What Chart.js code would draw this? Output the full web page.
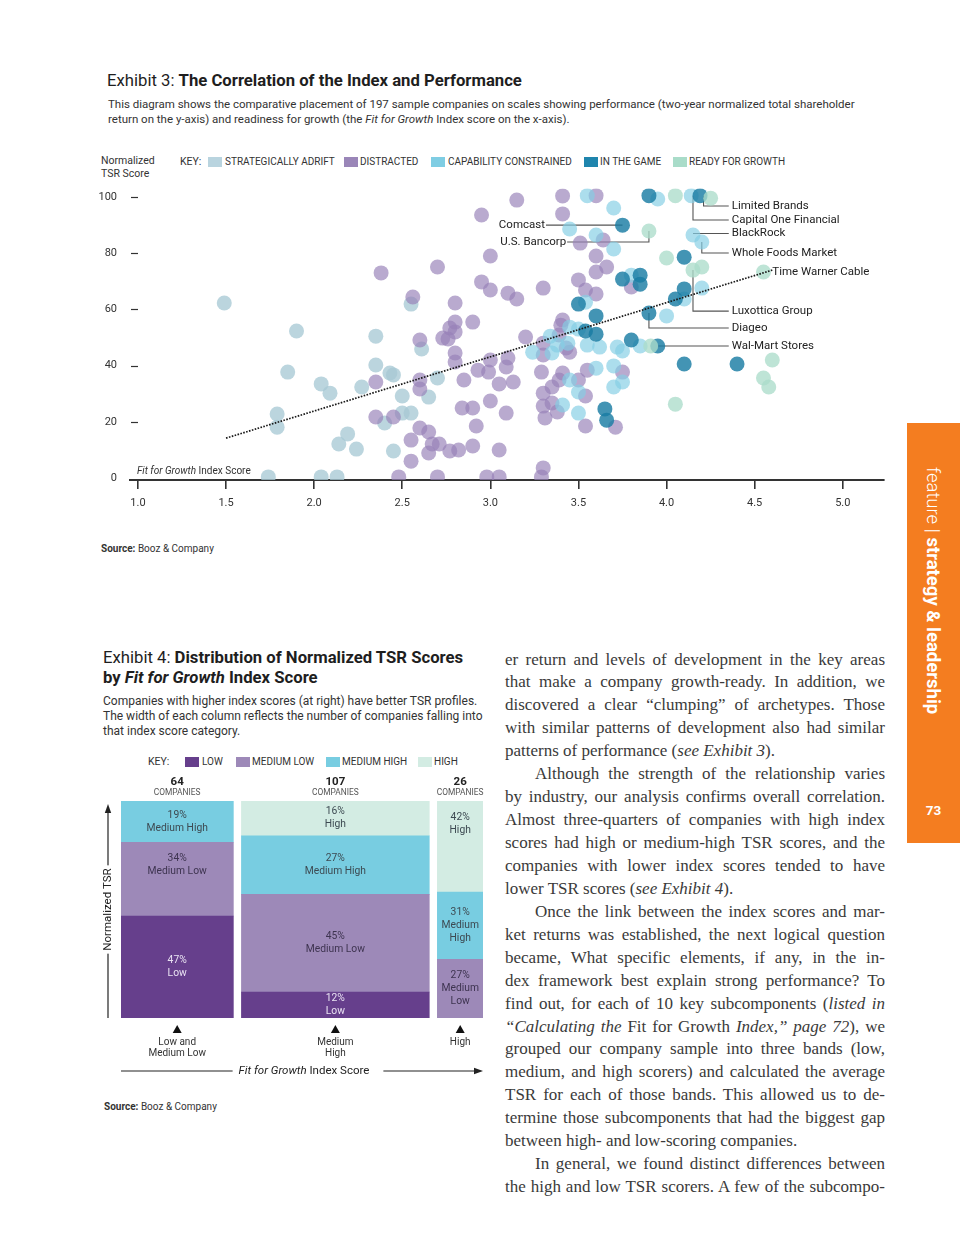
<!DOCTYPE html>
<html>
<head>
<meta charset="utf-8">
<title>Exhibits 3 and 4</title>
<script src="https://cdn.jsdelivr.net/npm/chart.js@4.4.1/dist/chart.umd.min.js"></script>
<style>
 html,body{margin:0;padding:0;background:#fff;}
 body{width:960px;height:1260px;overflow:hidden;position:relative;font-family:Roboto,"Noto Sans",Arial,sans-serif;color:#2a2a2a;}
 .t{position:absolute;white-space:nowrap;}
 .h{font-size:16.7px;line-height:20px;color:#1e1e1e;}
 .h b{font-weight:700;}
 .d{font-size:11.5px;line-height:15px;color:#333;}
 .k{font-size:10px;line-height:12px;color:#333;}
 .sw{position:absolute;width:14px;height:10px;}
 .src{font-size:10px;line-height:12px;color:#333}
 #c3{position:absolute;left:95px;top:180px;}
 #c4{position:absolute;left:90px;top:760px;}
 .tab{position:absolute;left:907px;top:423px;width:53px;height:420px;background:#f47d20;}
 .tabtxt{position:absolute;left:920px;top:467px;writing-mode:vertical-rl;color:#fff;font-size:18.5px;line-height:26px;white-space:nowrap;}
 .pg{position:absolute;left:907px;top:802px;width:53px;text-align:center;color:#fff;font-weight:700;font-size:13.5px;line-height:16px;}
 .body{position:absolute;left:505px;top:648.5px;width:380px;font-family:"Liberation Serif","DejaVu Serif",serif;font-size:17px;color:#3a3a3a;}
 .ln{white-space:nowrap;height:22.95px;line-height:22.95px;}
 .ln.ind{padding-left:30px;}
 .ln span{display:inline-block;white-space:nowrap;}
</style>
</head>
<body>

<!-- Exhibit 3 header -->
<div class="t h" style="left:107px;top:71px;">Exhibit 3: <b>The Correlation of the Index and Performance</b></div>
<div class="t d" style="left:108px;top:96.5px;">This diagram shows the comparative placement of 197 sample companies on scales showing performance (two-year normalized total shareholder<br>return on the y-axis) and readiness for growth (the <i>Fit for Growth</i> Index score on the x-axis).</div>

<div class="t k" style="left:101px;top:153.5px;line-height:13px;font-size:10.5px;">Normalized<br>TSR Score</div>
<div class="t k" style="left:180px;top:156px;font-size:10.5px;">KEY:</div>
<div class="sw" style="left:208px;top:157px;background:#b9d4df;"></div><div class="t k" style="left:225px;top:156px;">STRATEGICALLY ADRIFT</div>
<div class="sw" style="left:344px;top:157px;background:#9a86b8;"></div><div class="t k" style="left:360px;top:156px;">DISTRACTED</div>
<div class="sw" style="left:431px;top:157px;background:#7fcde3;"></div><div class="t k" style="left:448px;top:156px;">CAPABILITY CONSTRAINED</div>
<div class="sw" style="left:584px;top:157px;background:#1f85ad;"></div><div class="t k" style="left:600px;top:156px;">IN THE GAME</div>
<div class="sw" style="left:673px;top:157px;background:#a9dcc9;"></div><div class="t k" style="left:689px;top:156px;">READY FOR GROWTH</div>

<canvas id="c3" width="800" height="340"></canvas>
<div class="t" style="left:137px;top:465px;font-size:10px;line-height:12px;color:#333;"><i>Fit for Growth</i> Index Score</div>
<div class="t src" style="left:101px;top:543px;"><b>Source:</b> Booz &amp; Company</div>

<!-- Exhibit 4 header -->
<div class="t h" style="left:103px;top:648px;">Exhibit 4: <b>Distribution of Normalized TSR Scores</b><br><b>by <i>Fit for Growth</i> Index Score</b></div>
<div class="t d" style="left:103px;top:693.5px;font-size:12px;">Companies with higher index scores (at right) have better TSR profiles.<br>The width of each column reflects the number of companies falling into<br>that index score category.</div>

<div class="t k" style="left:148px;top:756px;font-size:10.5px;">KEY:</div>
<div class="sw" style="left:185px;top:757px;background:#663f8c;"></div><div class="t k" style="left:202px;top:756px;">LOW</div>
<div class="sw" style="left:236px;top:757px;background:#9d89b8;"></div><div class="t k" style="left:252px;top:756px;">MEDIUM LOW</div>
<div class="sw" style="left:326px;top:757px;background:#78cde1;"></div><div class="t k" style="left:342px;top:756px;">MEDIUM HIGH</div>
<div class="sw" style="left:418px;top:757px;background:#d3ece3;"></div><div class="t k" style="left:434px;top:756px;">HIGH</div>

<canvas id="c4" width="410" height="330"></canvas>
<div class="t src" style="left:104px;top:1101px;"><b>Source:</b> Booz &amp; Company</div>

<!-- Body text -->
<div class="body">
 <div class="ln"><span class="j">er return and levels of development in the key areas</span></div>
 <div class="ln"><span class="j">that make a company growth-ready. In addition, we</span></div>
 <div class="ln"><span class="j">discovered a clear “clumping” of archetypes. Those</span></div>
 <div class="ln"><span class="j">with similar patterns of development also had similar</span></div>
 <div class="ln"><span>patterns of performance (<i>see Exhibit 3</i>).</span></div>
 <div class="ln ind"><span class="j">Although the strength of the relationship varies</span></div>
 <div class="ln"><span class="j">by industry, our analysis confirms overall correlation.</span></div>
 <div class="ln"><span class="j">Almost three-quarters of companies with high index</span></div>
 <div class="ln"><span class="j">scores had high or medium-high TSR scores, and the</span></div>
 <div class="ln"><span class="j">companies with lower index scores tended to have</span></div>
 <div class="ln"><span>lower TSR scores (<i>see Exhibit 4</i>).</span></div>
 <div class="ln ind"><span class="j">Once the link between the index scores and mar-</span></div>
 <div class="ln"><span class="j">ket returns was established, the next logical question</span></div>
 <div class="ln"><span class="j">became, What specific elements, if any, in the in-</span></div>
 <div class="ln"><span class="j">dex framework best explain strong performance? To</span></div>
 <div class="ln"><span class="j">find out, for each of 10 key subcomponents (<i>listed in</i></span></div>
 <div class="ln"><span class="j"><i>“Calculating the</i> Fit for Growth <i>Index,” page 72</i>), we</span></div>
 <div class="ln"><span class="j">grouped our company sample into three bands (low,</span></div>
 <div class="ln"><span class="j">medium, and high scorers) and calculated the average</span></div>
 <div class="ln"><span class="j">TSR for each of those bands. This allowed us to de-</span></div>
 <div class="ln"><span class="j">termine those subcomponents that had the biggest gap</span></div>
 <div class="ln"><span>between high- and low-scoring companies.</span></div>
 <div class="ln ind"><span class="j">In general, we found distinct differences between</span></div>
 <div class="ln"><span class="j">the high and low TSR scorers. A few of the subcompo-</span></div>
</div>

<!-- Side tab -->
<div class="tab"></div>
<div class="tabtxt"><span style="font-weight:300">feature</span> <span style="font-weight:300">|</span> <b>strategy &amp; leadership</b></div>
<div class="pg">73</div>

<script>
// ---------------- Exhibit 3 data (Fit for Growth index score, normalized TSR) ----------------
const xTicks = [1.0, 1.5, 2.0, 2.5, 3.0, 3.5, 4.0, 4.5, 5.0];
const yTicks = [0, 20, 40, 60, 80, 100];

const adrift = [
[1.49,62.3],[1.90,52.3],[1.85,37.7],[2.04,33.5],[2.09,30.2],[1.79,22.8],[1.79,18.1],
[1.74,0.4],[2.04,0.4],[2.13,0.4],[2.35,50.5],[2.35,40.2],[2.27,32.4],[2.43,37.4],
[2.45,36.7],[2.50,29.2],[2.50,23.1],[2.55,23.1],[2.40,19.6],[2.19,15.7],[2.14,12.1],
[2.24,10.3],[2.45,9.6],[2.55,61.9],[2.61,45.9],[2.70,35.6],[2.65,28.8]
];
const distracted = [
[2.38,73.0],[2.70,75.1],[2.56,64.4],[2.80,62.3],[2.95,93.6],[3.00,79.0],[3.15,98.9],
[2.95,69.8],[3.00,66.9],[3.10,65.8],[3.15,63.7],[3.30,67.6],[2.90,55.5],[2.80,55.5],
[2.77,53.4],[2.80,52.0],[2.73,49.8],[2.76,49.5],[2.60,49.1],[2.80,44.5],[2.80,41.3],
[2.60,34.9],[2.60,31.7],[2.85,34.9],[2.93,38.4],[2.99,37.7],[3.00,42.0],[3.09,39.5],
[3.10,42.7],[3.05,33.5],[3.13,34.2],[3.00,27.4],[2.84,24.9],[2.90,24.9],[3.09,23.1],
[2.92,18.5],[2.35,34.2],[2.35,21.7],[2.45,21.7],[2.60,17.8],[2.65,16.4],[2.67,12.1],
[2.71,12.1],[2.55,13.5],[2.55,6.0],[2.65,8.9],[2.77,9.6],[2.82,10.0],[2.90,11.4],
[3.05,10.0],[2.48,0.4],[2.70,0.4],[2.98,0.4],[3.05,0.4],[3.30,3.6],[3.29,0.4],
[3.20,50.2],[3.30,48.0],[3.30,43.8],[3.39,50.9],[3.45,44.8],[3.43,46.3],[3.29,37.7],
[3.30,30.2],[3.35,32.4],[3.39,34.9],[3.41,37.4],[3.30,25.6],[3.35,26.7],[3.38,23.5],
[3.31,21.4],[3.50,34.9],[3.54,29.2],[3.54,18.5],[3.55,38.4],[3.75,37.7],[3.71,18.1],
[3.41,94.0],[3.41,100.4],[3.60,100.5],[3.51,83.6],[3.64,84.7],[3.60,79.0],[3.60,73.3],
[3.66,75.1],[3.50,70.5],[3.54,66.9],[3.60,65.5],[3.80,68.0],[3.41,56.2],[3.40,54.4]
];
const constrained = [
[3.55,100.5],[3.70,96.1],[3.95,99.3],[4.14,100.5],[3.45,88.6],[3.60,86.5],[3.70,81.5],
[4.15,86.5],[4.20,84.0],[3.80,72.2],[4.20,67.6],[4.10,63.7],[3.54,62.6],[4.00,57.7],
[3.45,53.7],[3.50,53.0],[3.34,50.5],[3.24,44.8],[3.35,44.5],[3.38,47.3],[3.44,48.0],
[3.55,47.3],[3.62,46.6],[3.72,46.6],[3.75,45.2],[3.85,47.0],[3.41,26.0],[3.45,34.9],
[3.50,30.6],[3.50,23.1],[3.60,39.1],[3.70,39.9],[3.75,34.2],[3.70,32.4]
];
const inTheGame = [
[3.90,100.5],[4.19,100.5],[3.75,90.0],[4.10,78.6],[3.75,70.8],[3.85,72.2],[3.85,69.0],
[4.10,67.3],[4.05,63.7],[3.50,61.9],[3.60,57.7],[3.90,58.7],[3.54,52.3],[3.60,51.2],
[3.80,49.1],[3.95,47.0],[4.10,40.6],[4.40,40.6],[3.65,24.6],[3.66,20.6]
];
const readyForGrowth = [
[4.05,100.5],[4.25,99.6],[3.90,87.9],[4.00,78.3],[4.15,74.0],[4.20,75.1],[4.55,73.3],
[3.91,47.0],[4.60,42.0],[4.55,35.6],[4.58,32.4],[4.05,26.3]
];
const trend = [[1.5,14.2],[4.6,74.0]];

// named companies: point (x,y) and label anchor (labelX,labelY) in data units
const callouts = [
 {name:'Limited Brands',        x:4.21, y:100.5, labelX:4.37, labelY:96.8, align:'left',  leader:true},
 {name:'Capital One Financial', x:4.15, y:100.5, labelX:4.37, labelY:91.8, align:'left',  leader:true},
 {name:'BlackRock',             x:4.15, y:87.0,  labelX:4.37, labelY:87.0, align:'left',  leader:true},
 {name:'Whole Foods Market',    x:4.20, y:84.0,  labelX:4.37, labelY:80.1, align:'left',  leader:true},
 {name:'Time Warner Cable',     x:4.55, y:73.3,  labelX:4.60, labelY:73.3, align:'left',  leader:false},
 {name:'Luxottica Group',       x:4.15, y:74.0,  labelX:4.37, labelY:59.4, align:'left',  leader:true},
 {name:'Diageo',                x:3.90, y:58.7,  labelX:4.37, labelY:53.4, align:'left',  leader:true},
 {name:'Wal-Mart Stores',       x:3.95, y:47.0,  labelX:4.37, labelY:47.0, align:'left',  leader:true},
 {name:'Comcast',               x:3.75, y:90.0,  labelX:3.31, labelY:90.0, align:'right', leader:true},
 {name:'U.S. Bancorp',          x:3.90, y:87.9,  labelX:3.43, labelY:84.0, align:'right', leader:true}
];

// ---------------- Exhibit 4 data ----------------
const columnLabels = [['Low and','Medium Low'], ['Medium','High'], ['High']];
const companies = [64, 107, 26];
const levelNames = ['Low', 'Medium Low', 'Medium High', 'High'];
const shareLow     = [47, 12, 0];
const shareMedLow  = [34, 45, 27];
const shareMedHigh = [19, 27, 31];
const shareHigh    = [0, 16, 42];

// ---------------- styles ----------------
const FONT = 'Roboto, "Noto Sans", Arial, sans-serif';
const seriesColors = {
  adrift: 'rgba(168,201,213,0.78)',
  distracted: 'rgba(152,130,184,0.68)',
  constrained: 'rgba(132,206,228,0.68)',
  game: 'rgba(26,124,163,0.82)',
  ready: 'rgba(172,221,202,0.78)'
};
const levelColors = ['#663f8c', '#9d89b8', '#78cde1', '#d3ece3'];
const labelAtTop = ['0-1', '2-3'];
const GAP = 4.6; // gap between columns, in company units

const pts = arr => arr.map(p => ({x: p[0], y: p[1]}));

// ---------------- Exhibit 3 chart ----------------
const calloutPlugin = {
  id: 'callouts',
  beforeDatasetsDraw(chart) {
    const {ctx, scales:{x, y}} = chart;
    ctx.save();
    ctx.strokeStyle = '#555';
    ctx.lineWidth = 1.1;
    callouts.forEach(c => {
      if (!c.leader) return;
      const px = x.getPixelForValue(c.x), py = y.getPixelForValue(c.y);
      const ly = y.getPixelForValue(c.labelY);
      const lx = x.getPixelForValue(c.labelX) + (c.align === 'left' ? -3 : 1);
      ctx.beginPath();
      ctx.moveTo(px, py);
      ctx.lineTo(px, ly);
      ctx.lineTo(lx, ly);
      ctx.stroke();
    });
    ctx.restore();
  },
  afterDraw(chart) {
    const {ctx, scales:{x, y}, chartArea} = chart;
    ctx.save();
    ctx.font = '11.5px ' + FONT;
    ctx.fillStyle = '#222';
    ctx.textBaseline = 'middle';
    callouts.forEach(c => {
      ctx.textAlign = c.align;
      ctx.fillText(c.name, x.getPixelForValue(c.labelX), y.getPixelForValue(c.labelY));
    });
    // y-axis dashes
    ctx.strokeStyle = '#333';
    ctx.lineWidth = 1.2;
    y.ticks.forEach(t => {
      if (t.value <= 0) return;
      const py = Math.round(y.getPixelForValue(t.value)) + 0.5;
      ctx.beginPath();
      ctx.moveTo(chartArea.left + 1, py);
      ctx.lineTo(chartArea.left + 8, py);
      ctx.stroke();
    });
    ctx.restore();
  }
};

new Chart(document.getElementById('c3'), {
  type: 'scatter',
  data: {
    datasets: [
      {label:'Strategically Adrift', data: pts(adrift), backgroundColor: seriesColors.adrift, order: 5},
      {label:'Distracted', data: pts(distracted), backgroundColor: seriesColors.distracted, order: 4},
      {label:'Capability Constrained', data: pts(constrained), backgroundColor: seriesColors.constrained, order: 3},
      {label:'In the Game', data: pts(inTheGame), backgroundColor: seriesColors.game, order: 2},
      {label:'Ready for Growth', data: pts(readyForGrowth), backgroundColor: seriesColors.ready, order: 1},
      {type:'line', label:'Trend', data: pts(trend), borderColor:'#1a1a1a', borderWidth:1.7,
       borderDash:[1.6,1.4], pointRadius:0, fill:false, order:0}
    ]
  },
  options: {
    responsive: false,
    animation: false,
    events: [],
    elements: { point: { radius: 7.5, borderWidth: 0, hoverRadius: 7.5 } },
    layout: { padding: { top: 8.6, right: 11, left: 0, bottom: 0 } },
    plugins: { legend: {display:false}, tooltip: {enabled:false} },
    scales: {
      x: {
        type: 'linear', min: 0.955, max: 5.234,
        afterBuildTicks: s => { s.ticks = xTicks.map(v => ({value: v})); },
        afterFit: s => { s.height = 40; },
        grid: { drawOnChartArea: false, color: '#333', tickLength: 9, lineWidth: 1.6 },
        border: { display: true, color: '#333', width: 2 },
        ticks: { callback: v => Number(v).toFixed(1), font: {family: FONT, size: 11}, color: '#333',
                 padding: 8, maxRotation: 0, autoSkip: false }
      },
      y: {
        type: 'linear', min: -0.7, max: 103,
        afterBuildTicks: s => { s.ticks = yTicks.map(v => ({value: v})); },
        afterFit: s => { s.width = 35; },
        grid: { display: false, drawTicks: true, tickLength: 13 },
        border: { display: false },
        ticks: { font: {family: FONT, size: 11}, color: '#333', padding: 0, autoSkip: false }
      }
    }
  },
  plugins: [calloutPlugin]
});

// ---------------- Exhibit 4 chart (variable-width columns) ----------------
const shares = [shareLow, shareMedLow, shareMedHigh, shareHigh];
const colStart = [];
let acc = 0;
companies.forEach(n => { colStart.push(acc); acc += n + GAP; });
const totalX = acc - GAP;

const mekkoSets = [];
companies.forEach((n, c) => {
  levelNames.forEach((lv, l) => {
    const v = shares[l][c];
    if (!v) return;
    mekkoSets.push({
      label: lv,
      data: [{x: colStart[c] + n / 2, y: v}],
      backgroundColor: levelColors[l],
      borderWidth: 0,
      stack: 'all',
      col: c, lvl: l,
      barThickness: ctx => {
        const xs = ctx.chart.scales && ctx.chart.scales.x;
        if (!xs) return 1;
        const w = xs.getPixelForValue(colStart[c] + n) - xs.getPixelForValue(colStart[c]);
        return isFinite(w) && w > 0 ? w : 1;
      }
    });
  });
});

function drawTri(ctx, cx, tipY, half, h, dir) {
  ctx.beginPath();
  if (dir === 'up') { ctx.moveTo(cx, tipY); ctx.lineTo(cx - half, tipY + h); ctx.lineTo(cx + half, tipY + h); }
  else { ctx.moveTo(cx, tipY); ctx.lineTo(cx - h, tipY - half); ctx.lineTo(cx - h, tipY + half); }
  ctx.closePath();
  ctx.fill();
}

const mekkoPlugin = {
  id: 'mekko',
  afterDatasetsDraw(chart) {
    const {ctx} = chart;
    ctx.save();
    ctx.textAlign = 'center';
    ctx.textBaseline = 'middle';
    ctx.font = '10.3px ' + FONT;
    chart.data.datasets.forEach((ds, i) => {
      const el = chart.getDatasetMeta(i).data[0];
      if (!el) return;
      const top = Math.min(el.y, el.base), bot = Math.max(el.y, el.base);
      const name = levelNames[ds.lvl];
      const lines = [ds.data[0].y + '%'].concat(el.width < 60 ? name.split(' ') : [name]);
      const lh = 13;
      const first = labelAtTop.includes(ds.col + '-' + ds.lvl)
        ? top + 16
        : (top + bot) / 2 - (lines.length - 1) * lh / 2;
      ctx.fillStyle = ds.lvl === 0 ? '#e9e2f2' : (ds.lvl === 1 ? '#3e3450' : '#3d4a52');
      lines.forEach((t, k) => ctx.fillText(t, el.x, first + k * lh));
    });
    ctx.restore();
  },
  afterDraw(chart) {
    const {ctx, chartArea: a, scales: {x}} = chart;
    ctx.save();
    ctx.fillStyle = '#222';
    ctx.strokeStyle = '#222';
    ctx.textAlign = 'center';
    ctx.textBaseline = 'middle';
    companies.forEach((n, c) => {
      const cx = x.getPixelForValue(colStart[c] + n / 2);
      ctx.font = 'bold 11.5px ' + FONT;
      ctx.fillStyle = '#222';
      ctx.fillText(String(n), cx, a.top - 19);
      ctx.font = '8.4px ' + FONT;
      ctx.fillStyle = '#555';
      ctx.fillText('COMPANIES', cx, a.top - 8);
      ctx.fillStyle = '#111';
      drawTri(ctx, cx, a.bottom + 7, 4.5, 8, 'up');
      ctx.font = '10px ' + FONT;
      ctx.fillStyle = '#333';
      columnLabels[c].forEach((t, k) => ctx.fillText(t, cx, a.bottom + 24 + k * 11));
    });
    // x title with arrow
    const ty = a.bottom + 53;
    const cx = (a.left + a.right) / 2 + 2;
    ctx.font = 'italic 11.5px ' + FONT;
    const w1 = ctx.measureText('Fit for Growth').width;
    ctx.font = '11.5px ' + FONT;
    const w2 = ctx.measureText(' Index Score').width;
    const sx = cx - (w1 + w2) / 2;
    ctx.fillStyle = '#222';
    ctx.textAlign = 'left';
    ctx.font = 'italic 11.5px ' + FONT;
    ctx.fillText('Fit for Growth', sx, ty);
    ctx.font = '11.5px ' + FONT;
    ctx.fillText(' Index Score', sx + w1, ty);
    ctx.lineWidth = 1.2;
    ctx.beginPath();
    ctx.moveTo(a.left, ty); ctx.lineTo(sx - 6, ty);
    ctx.moveTo(sx + w1 + w2 + 14, ty); ctx.lineTo(a.right - 6, ty);
    ctx.stroke();
    drawTri(ctx, a.right, ty, 3.2, 9, 'right');
    // y title with arrow
    const ax = a.left - 13;
    ctx.beginPath();
    ctx.moveTo(ax, a.top + 8); ctx.lineTo(ax, a.bottom);
    ctx.stroke();
    drawTri(ctx, ax, a.top + 3, 3.2, 9, 'up');
    ctx.save();
    const my = (a.top + a.bottom) / 2;
    ctx.translate(ax, my);
    ctx.rotate(-Math.PI / 2);
    ctx.font = '11.5px ' + FONT;
    const tw = ctx.measureText('Normalized TSR').width;
    ctx.fillStyle = '#fff';
    ctx.fillRect(-tw / 2 - 3, -7, tw + 6, 14);
    ctx.fillStyle = '#222';
    ctx.textAlign = 'center';
    ctx.fillText('Normalized TSR', 0, 0.5);
    ctx.restore();
    ctx.restore();
  }
};

new Chart(document.getElementById('c4'), {
  type: 'bar',
  data: { datasets: mekkoSets },
  options: {
    responsive: false,
    animation: false,
    events: [],
    layout: { padding: { left: 31, right: 17, top: 41, bottom: 72 } },
    plugins: { legend: {display:false}, tooltip: {enabled:false} },
    scales: {
      x: { type: 'linear', min: 0, max: totalX, display: false, offset: false },
      y: { type: 'linear', min: 0, max: 100, stacked: true, display: false }
    }
  },
  plugins: [mekkoPlugin]
});

// ---------------- justify body text lines ----------------
document.querySelectorAll('.body .j').forEach(sp => {
  const indent = sp.parentElement.classList.contains('ind') ? 30 : 0;
  const target = 380 - indent;
  const w = sp.getBoundingClientRect().width;
  const n = (sp.textContent.match(/ /g) || []).length;
  if (n > 0) sp.style.wordSpacing = ((target - w) / n) + 'px';
});
</script>
</body>
</html>
